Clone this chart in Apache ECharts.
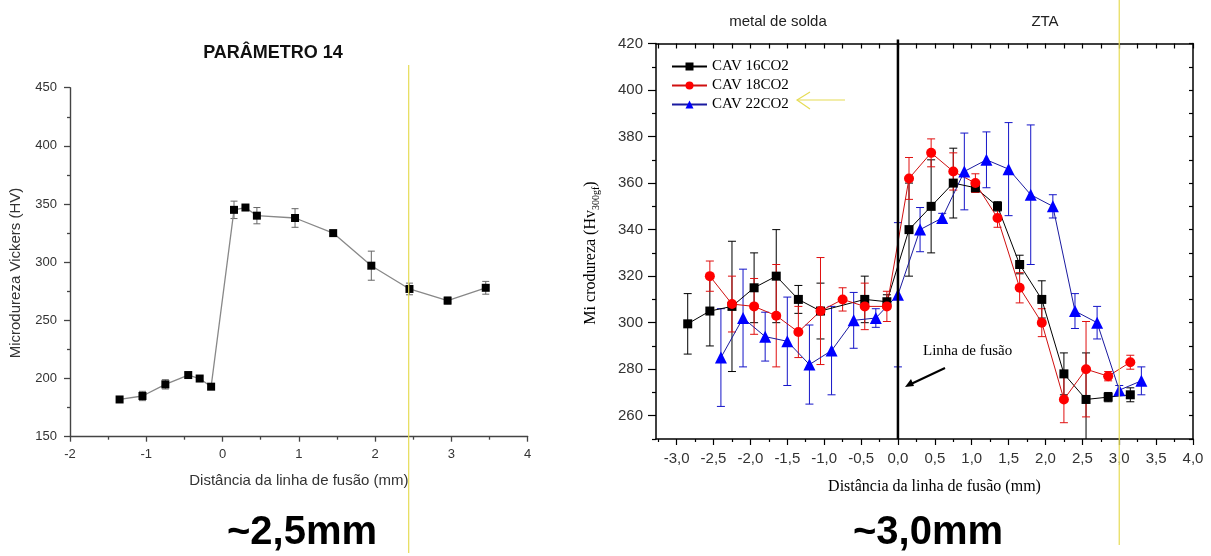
<!DOCTYPE html>
<html><head><meta charset="utf-8">
<script src="https://cdn.jsdelivr.net/npm/echarts@6/dist/echarts.min.js"></script>
<style>html,body{margin:0;padding:0;background:#fff}#c{width:1211px;height:556px}</style>
</head><body><div id="c"></div>
<script>
// ---------- Left chart: PARÂMETRO 14 ----------
const p14X   = [-1.35,-1.05,-0.75,-0.45,-0.30,-0.15,0.15,0.30,0.45,0.95,1.45,1.95,2.45,2.95,3.45];
const p14Y   = [182,185,195,203,200,193,345,347,340,338,325,297,277,267,278];
const p14Err = [2,4,4,2,2,2,7.5,2,7,8,2,12.5,5,3,5.5];
const leftMarkX = 2.44;

// ---------- Right chart ----------
const cav16X   = [-2.85,-2.55,-2.25,-1.95,-1.65,-1.35,-1.05,-0.45,-0.15,0.15,0.45,0.75,1.05,1.35,1.65,1.95,2.25,2.55,2.85,3.15];
const cav16Y   = [299.5,305,307,315,320,310,305,310,309,340,350,360,358,350,325,310,278,267,268,269];
const cav16Err = [13,15,28,15,20,6,12,10,3,20,20,15,2,2,4,8,9,20,2,3];

const cav18X   = [-2.55,-2.25,-1.95,-1.65,-1.35,-1.05,-0.75,-0.45,-0.15,0.15,0.45,0.75,1.05,1.35,1.65,1.95,2.25,2.55,2.85,3.15];
const cav18Y   = [320,308,307,303,296,305,310,307,307,362,373,365,360,345,315,300,267,280,277,283];
const cav18Err = [6.5,12,12,22,11,23,5,10,6.5,9,6,8,4,4,6.5,6,10,20.5,2,3];

const cav22X   = [-2.4,-2.1,-1.8,-1.5,-1.2,-0.9,-0.6,-0.3,0,0.3,0.6,0.9,1.2,1.5,1.8,2.1,2.4,2.7,3.0,3.3];
const cav22Y   = [285,302,294,292,282,288,301,302,312,340,345,365,370,366,355,350,305,300,271,275];
const cav22Err = [21,21,10.5,19,17,19,12,4,31,9.5,2,16.5,12,20,30,5,7.5,7,2,6];

const rightMajorX = [-3,-2.5,-2,-1.5,-1,-0.5,0,0.5,1,1.5,2,2.5,3,3.5,4];
const rightMinorX = [-3.25,-2.75,-2.25,-1.75,-1.25,-0.75,-0.25,0.25,0.75,1.25,1.75,2.25,2.75,3.25,3.75];
const rightAllX   = rightMajorX.concat(rightMinorX);
const rightMajorY = [260,280,300,320,340,360,380,400,420];
const rightMinorY = [250,270,290,310,330,350,370,390,410];
const rightAllY   = rightMajorY.concat(rightMinorY);
const rightMarkX = 3.0;
const fusionX = 0;

const sans = 'Liberation Sans, Arial, sans-serif';
const serif = 'Liberation Serif, Times New Roman, serif';

function zip(xs, ys){ return xs.map((x,i)=>[x, ys[i]]); }
function errData(xs, ys, es){ return xs.map((x,i)=>[x, ys[i]-es[i], ys[i]+es[i]]); }
function errSeries(xi, yi, data, color, cap){
  return {
    type:'custom', xAxisIndex:xi, yAxisIndex:yi, data, clip:true, silent:true, z:1,
    encode:{x:0, y:[1,2]},
    renderItem(params, api){
      const x = api.value(0);
      const lo = api.coord([x, api.value(1)]);
      const hi = api.coord([x, api.value(2)]);
      const st = {stroke:color, lineWidth:1};
      return {type:'group', children:[
        {type:'line', shape:{x1:lo[0],y1:lo[1],x2:hi[0],y2:hi[1]}, style:st},
        {type:'line', shape:{x1:lo[0]-cap,y1:lo[1],x2:lo[0]+cap,y2:lo[1]}, style:st},
        {type:'line', shape:{x1:hi[0]-cap,y1:hi[1],x2:hi[0]+cap,y2:hi[1]}, style:st}
      ]};
    }
  };
}
function fmtComma(v){ return v.toFixed(1).replace('.', ','); }

const blackAxis = {show:true, onZero:false, lineStyle:{color:'#000', width:1.5}};
const grayAxis = {show:true, onZero:false, lineStyle:{color:'#444', width:1.4}};

const chart = echarts.init(document.getElementById('c'));
const option = {
  animation:false,
  backgroundColor:'#fff',
  grid:[
    {left:70, top:87.7, width:457.7, height:349},
    {left:656, top:43.5, width:537, height:395.5}
  ],
  legend:{
    data:['CAV 16CO2','CAV 18CO2','CAV 22CO2'],
    orient:'vertical', left:666, top:54, itemWidth:35, itemHeight:10, itemGap:4,
    textStyle:{fontFamily:serif, fontSize:15, color:'#000'}
  },
  xAxis:[
    {gridIndex:0, type:'value', min:-2, max:4, interval:1,
     axisLine:grayAxis, splitLine:{show:false},
     axisTick:{show:true, length:5, lineStyle:{color:'#444', width:1.3}},
     minorTick:{show:true, splitNumber:2, length:3, lineStyle:{color:'#444', width:1.3}},
     axisLabel:{fontFamily:sans, fontSize:13, color:'#333', margin:11},
     name:'Distância da linha de fusão (mm)', nameLocation:'middle', nameGap:37,
     nameTextStyle:{fontFamily:sans, fontSize:15, color:'#333'}},
    {gridIndex:1, type:'value', position:'bottom', min:-3.28, max:4,
     axisLine:blackAxis, splitLine:{show:false},
     axisTick:{show:true, length:6, customValues:rightMajorX, lineStyle:{color:'#000', width:1.2}},
     axisLabel:{customValues:rightMajorX, formatter:fmtComma, fontFamily:sans, fontSize:15, color:'#333', margin:12},
     name:'Distância da linha de fusão (mm)', nameLocation:'middle', nameGap:40,
     nameTextStyle:{fontFamily:serif, fontSize:16, color:'#000', padding:[0,0,0,20]}},
    {gridIndex:1, type:'value', position:'bottom', min:-3.28, max:4,
     axisLine:{show:false, onZero:false}, splitLine:{show:false}, axisLabel:{show:false},
     axisTick:{show:true, length:3, customValues:rightMinorX, lineStyle:{color:'#000', width:1.2}}},
    {gridIndex:1, type:'value', position:'top', min:-3.28, max:4,
     axisLine:blackAxis, splitLine:{show:false}, axisLabel:{show:false},
     axisTick:{show:true, inside:true, length:5, customValues:rightAllX, lineStyle:{color:'#000', width:1.2}}}
  ],
  yAxis:[
    {gridIndex:0, type:'value', min:150, max:450, interval:50,
     axisLine:grayAxis, splitLine:{show:false},
     axisTick:{show:true, length:6, lineStyle:{color:'#444', width:1.3}},
     minorTick:{show:true, splitNumber:2, length:3, lineStyle:{color:'#444', width:1.3}},
     axisLabel:{fontFamily:sans, fontSize:13, color:'#333', margin:13}},
    {gridIndex:1, type:'value', position:'left', min:250, max:420,
     axisLine:blackAxis, splitLine:{show:false},
     axisTick:{show:true, length:8, customValues:rightMajorY, lineStyle:{color:'#000', width:1.2}},
     axisLabel:{customValues:rightMajorY, fontFamily:sans, fontSize:15, color:'#333', margin:13}},
    {gridIndex:1, type:'value', position:'left', min:250, max:420,
     axisLine:{show:false, onZero:false}, splitLine:{show:false}, axisLabel:{show:false},
     axisTick:{show:true, length:4, customValues:rightMinorY, lineStyle:{color:'#000', width:1.2}}},
    {gridIndex:1, type:'value', position:'right', min:250, max:420,
     axisLine:blackAxis, splitLine:{show:false}, axisLabel:{show:false},
     axisTick:{show:true, inside:true, length:4, customValues:rightAllY, lineStyle:{color:'#000', width:1.2}}}
  ],
  series:[
    errSeries(0, 0, errData(p14X, p14Y, p14Err), '#666', 3.5),
    {type:'line', name:'PARÂMETRO 14', xAxisIndex:0, yAxisIndex:0, data:zip(p14X, p14Y),
     symbol:'rect', symbolSize:8, itemStyle:{color:'#000'}, lineStyle:{color:'#888', width:1.3}, z:3},

    errSeries(1, 1, errData(cav16X, cav16Y, cav16Err), '#000', 4),
    errSeries(1, 1, errData(cav18X, cav18Y, cav18Err), '#e01010', 4),
    errSeries(1, 1, errData(cav22X, cav22Y, cav22Err), '#1515c8', 4),
    {type:'line', name:'CAV 16CO2', xAxisIndex:1, yAxisIndex:1, data:zip(cav16X, cav16Y),
     symbol:'rect', symbolSize:9, itemStyle:{color:'#000'}, lineStyle:{color:'#000', width:1}, z:3},
    {type:'line', name:'CAV 18CO2', xAxisIndex:1, yAxisIndex:1, data:zip(cav18X, cav18Y),
     symbol:'circle', symbolSize:10, itemStyle:{color:'#ff0000'}, lineStyle:{color:'#d01010', width:1}, z:3},
    {type:'line', name:'CAV 22CO2', xAxisIndex:1, yAxisIndex:1, data:zip(cav22X, cav22Y),
     symbol:'triangle', symbolSize:12, itemStyle:{color:'#0000ff'}, lineStyle:{color:'#1a1aa0', width:1}, z:3}
  ]
};
chart.setOption(option);

const pL  = chart.convertToPixel({xAxisIndex:0, yAxisIndex:0}, [leftMarkX, 300]);
const pR  = chart.convertToPixel({xAxisIndex:1, yAxisIndex:1}, [rightMarkX, 300]);
const pFb = chart.convertToPixel({xAxisIndex:1, yAxisIndex:1}, [fusionX, 250]);
const pFt = chart.convertToPixel({xAxisIndex:1, yAxisIndex:1}, [fusionX, 420]);
const yellow = '#e6dc55';

chart.setOption({graphic:[
  {type:'text', x:273, y:53, z:10, style:{text:'PARÂMETRO 14', align:'center', verticalAlign:'middle', fontFamily:sans, fontWeight:'bold', fontSize:18, fill:'#111'}},
  {type:'text', x:16, y:273, rotation:Math.PI/2, z:10, style:{text:'Microdureza Vickers (HV)', align:'center', verticalAlign:'middle', fontFamily:sans, fontSize:15, fill:'#333'}},
  {type:'text', x:302, y:533, z:10, style:{text:'~2,5mm', align:'center', verticalAlign:'middle', fontFamily:sans, fontWeight:'bold', fontSize:40, fill:'#000'}},
  {type:'text', x:928, y:533, z:10, style:{text:'~3,0mm', align:'center', verticalAlign:'middle', fontFamily:sans, fontWeight:'bold', fontSize:40, fill:'#000'}},
  {type:'text', x:778, y:22, z:10, style:{text:'metal de solda', align:'center', verticalAlign:'middle', fontFamily:sans, fontSize:15, fill:'#222'}},
  {type:'text', x:1045, y:22, z:10, style:{text:'ZTA', align:'center', verticalAlign:'middle', fontFamily:sans, fontSize:15, fill:'#222'}},
  {type:'text', x:591, y:253, rotation:Math.PI/2, z:10, style:{
    text:'{a|Mi crodureza (Hv}{s|300gf}{a|)}', align:'center', verticalAlign:'middle',
    rich:{a:{fontFamily:serif, fontSize:16, lineHeight:20, fill:'#000'}, s:{fontFamily:serif, fontSize:10, lineHeight:11, verticalAlign:'bottom', fill:'#000'}}}},
  {type:'text', x:923, y:351, z:10, style:{text:'Linha de fusão', align:'left', verticalAlign:'middle', fontFamily:serif, fontSize:15, fill:'#000'}},
  // black arrow to fusion line
  {type:'line', z:10, shape:{x1:945, y1:368, x2:911, y2:384}, style:{stroke:'#000', lineWidth:2}},
  {type:'polygon', z:10, shape:{points:[[905,387],[911,379],[914,386]]}, style:{fill:'#000'}},
  // yellow arrow near legend
  {type:'polyline', z:10, shape:{points:[[845,100],[797,100]]}, style:{stroke:yellow, lineWidth:1.2}},
  {type:'polyline', z:10, shape:{points:[[810,92],[797,100],[810,109]]}, style:{stroke:yellow, lineWidth:1.2, fill:null}},
  // fusion line (x = 0)
  {type:'line', z:9, shape:{x1:pFb[0], y1:pFb[1], x2:pFt[0], y2:pFt[1]-4}, style:{stroke:'#000', lineWidth:2.5}},
  // yellow marker lines
  {type:'line', z:11, shape:{x1:pL[0], y1:65, x2:pL[0], y2:553}, style:{stroke:yellow, lineWidth:1.2}},
  {type:'line', z:11, shape:{x1:pR[0], y1:0, x2:pR[0], y2:545}, style:{stroke:yellow, lineWidth:1.2}}
]});
</script>
</body></html>
